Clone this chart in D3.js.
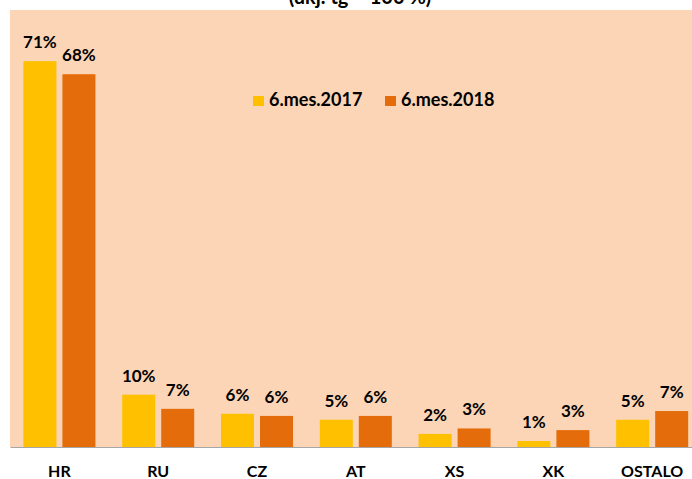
<!DOCTYPE html>
<html>
<head>
<meta charset="utf-8">
<script src="https://cdn.jsdelivr.net/npm/d3@7"></script>
<style>
  body { margin: 0; background: #fff; }
  text { font-family: Lato, "Open Sans", sans-serif; font-weight: bold; fill: #000; }
</style>
</head>
<body>
<script>
//chart data
var categories = ["HR", "RU", "CZ", "AT", "XS", "XK", "OSTALO"];
var seriesNames = ["6.mes.2017", "6.mes.2018"];
var values2017 = [0.708, 0.096, 0.061, 0.050, 0.024, 0.011, 0.050];
var values2018 = [0.684, 0.070, 0.057, 0.057, 0.034, 0.031, 0.066];
var colors = ["#FFC000", "#E46C0A"];
var title = "(ukj. tg = 100 %)";

(function drawChart(){
  var width = 692,
      height = 479,
      plotLeft = 10,
      plotRight = 701.6,
      plotTop = 11,
      baseline = 447;

  var svg = d3.select("body")
    .append("svg")
    .attr("width", width)
    .attr("height", height);

  //peach plot background
  svg.append("rect")
    .attr("x", plotLeft)
    .attr("y", 10)
    .attr("width", plotRight - plotLeft)
    .attr("height", baseline - 10)
    .attr("fill", "#FBD5B5");

  //title, mostly cut off at the top like the reference
  svg.append("text")
    .attr("x", 360)
    .attr("y", 4)
    .attr("text-anchor", "middle")
    .style("font-size", "20px")
    .text(title);

  //scales
  var x0 = d3.scaleBand()
    .domain(categories)
    .range([plotLeft, plotRight])
    .paddingInner(0.271)
    .paddingOuter(0.1357);

  var x1 = d3.scaleBand()
    .domain(seriesNames)
    .range([0, x0.bandwidth()])
    .paddingInner(0.154);

  var y = d3.scaleLinear()
    .domain([0, 0.8])
    .range([baseline, plotTop]);

  //one row per bar
  var rows = [];
  categories.forEach(function(c, i){
    rows.push({cat: c, series: seriesNames[0], value: values2017[i], color: colors[0]});
    rows.push({cat: c, series: seriesNames[1], value: values2018[i], color: colors[1]});
  });

  var bars = svg.append("g").attr("class", "bars");
  bars.selectAll("rect")
    .data(rows)
    .enter()
    .append("rect")
    .attr("x", function(d){ return x0(d.cat) + x1(d.series); })
    .attr("y", function(d){ return y(d.value); })
    .attr("width", x1.bandwidth())
    .attr("height", function(d){ return baseline - y(d.value); })
    .attr("fill", function(d){ return d.color; });

  //data labels
  bars.selectAll("text")
    .data(rows)
    .enter()
    .append("text")
    .attr("x", function(d){ return x0(d.cat) + x1(d.series) + x1.bandwidth() / 2; })
    .attr("y", function(d){ return y(d.value) - 13; })
    .attr("text-anchor", "middle")
    .style("font-size", "17px")
    .text(function(d){ return Math.round(d.value * 100) + "%"; });

  //category axis
  var xAxis = d3.axisBottom(x0).tickSize(0).tickPadding(19);
  var axis = svg.append("g")
    .attr("transform", "translate(0," + baseline + ")")
    .call(xAxis);
  axis.select(".domain").attr("stroke", "#A6A6A6").attr("stroke-width", 1);
  axis.selectAll(".tick text")
    .attr("fill", "#000")
    .style("font-size", "16px")
    .style("font-family", "Lato, sans-serif")
    .style("font-weight", "bold");

  //legend
  var legend = svg.append("g")
    .attr("transform", "translate(253,96)");
  var items = legend.selectAll("g")
    .data(seriesNames)
    .enter()
    .append("g")
    .attr("transform", function(d, i){ return "translate(" + (i * 132) + ",0)"; });
  items.append("rect")
    .attr("width", 11)
    .attr("height", 10)
    .attr("fill", function(d, i){ return colors[i]; });
  items.append("text")
    .attr("x", 16)
    .attr("y", 9.5)
    .style("font-size", "18px")
    .text(function(d){ return d; });
})();
</script>
</body>
</html>
